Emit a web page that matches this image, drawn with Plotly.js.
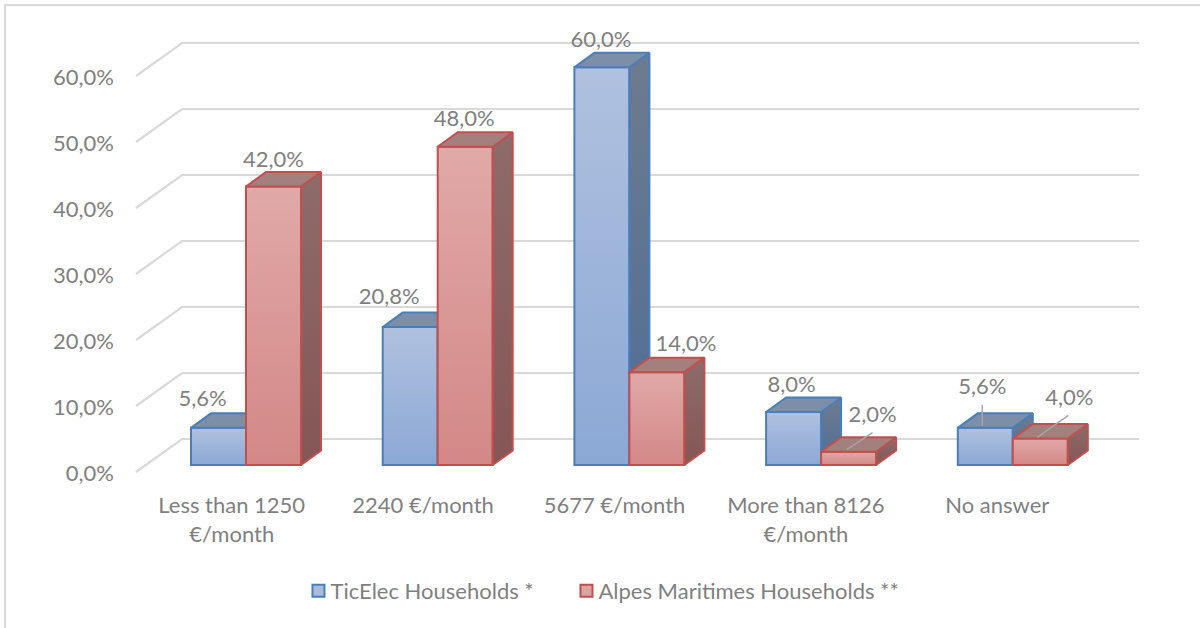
<!DOCTYPE html>
<html><head><meta charset="utf-8">
<script src="https://cdn.plot.ly/plotly-3.0.1.min.js"></script>
<style>html,body{margin:0;padding:0;background:#fff;overflow:hidden}#frame{position:absolute;left:4px;top:4px;width:1300px;height:700px;border-left:2px solid #d9d9d9;border-top:2px solid #d9d9d9;box-sizing:border-box}#chart{position:absolute;left:0;top:0;width:1200px;height:628px}</style>
</head><body><div id="frame"></div><div id="chart"></div>
<script>
// ---------- data ----------
const categories = ['Less than 1250<br>€/month','2240 €/month','5677 €/month','More than 8126<br>€/month','No answer'];
const ticElec = [5.6,20.8,60,8,5.6];
const alpes = [42,48,14,2,4];
const yTicks = [0,10,20,30,40,50,60];
const seriesNames = ['TicElec Households *','Alpes Maritimes Households **'];

// ---------- layout metrics (pixels of the picture) ----------
const plot = {l:115,r:1160,t:20,b:490};
const wall = {x0:136,y0:472,catW:191.4,unit:6.6,depthX:46,depthY:33};
const bars = {x0:246,y0:465,catW:191.7,unit:6.63,w:55,depthX:20,depthY:14.5};
const textGrey = '#7f7f7f', grid = '#d9d9d9', leader='#a6a6a6', font='Lato, Carlito, sans-serif';
const blue = {line:'#4a7ebb',front:['#b0c1df','#8ba8d5'],side:['#6e7b8f','#4f6d96'],top:'#7d8fa8',swatch:'#a9bcdc'};
const red  = {line:'#c0504d',front:['#e0a9a8','#d38886'],side:['#8d6c6b','#855655'],top:'#a37f7e',swatch:'#dba3a2'};
// label placement relative to the bar's front-top centre: [right, up] in px
const blueLabelShift = [[-16,27],[-21,29],[-1,26],[-2,25],[-3,39]];
const redLabelShift  = [[0,25],[-1,26],[29,27],[24,35],[29,39]];
// leader lines, from bar-top offset to label offset
const blueLeaders = [{i:4,from:[-3,2],to:[-3,23]}];
const redLeaders  = [{i:3,from:[-2,2],to:[24,19]},{i:4,from:[-3,1],to:[28,23]}];

const idx = categories.map((_,i)=>i);
const wBar = bars.w/bars.catW, dX = bars.depthX/bars.catW, dY = bars.depthY/bars.unit;
const fmt = v => v.toFixed(1).replace('.',',')+'%';

const traces = [];
// back-wall grid: front-left stub, then back line
yTicks.forEach(v=>{
  const dx = wall.depthX/wall.catW, dy = wall.depthY/wall.unit;
  traces.push({type:'scatter',mode:'lines',xaxis:'x',yaxis:'y',showlegend:false,hoverinfo:'skip',
    x:[-0.5,-0.5+dx,categories.length-0.5+dx],y:[v,v+dy,v+dy],line:{color:grid,width:2.2},cliponaxis:false});
});

function addSeries(vals,c,name,side,xa,ya,legendwidth){
  const left = i => side<0 ? i-wBar : i, right = i => side<0 ? i : i+wBar;
  const bar = {type:'bar',name,x:idx,y:vals,width:wBar,offset:side<0?-wBar:0,xaxis:xa,yaxis:ya,
    marker:{color:c.swatch,line:{color:c.line,width:2}},hoverinfo:'y'};
  if(legendwidth) bar.legendwidth = legendwidth;
  traces.push(bar);
  vals.forEach((v,i)=>{
    const r=right(i), l=left(i);
    traces.push({type:'scatter',mode:'lines',xaxis:xa,yaxis:ya,showlegend:false,hoverinfo:'skip',cliponaxis:false,
      x:[r,r+dX,r+dX,r,r],y:[v,v+dY,dY,0,v],fill:'toself',line:{color:c.line,width:2},
      fillgradient:{type:'vertical',colorscale:[[0,c.side[1]],[1,c.side[0]]]}});
    traces.push({type:'scatter',mode:'lines',xaxis:xa,yaxis:ya,showlegend:false,hoverinfo:'skip',cliponaxis:false,
      x:[l,l+dX,r+dX,r,l],y:[v,v+dY,v+dY,v,v],fill:'toself',fillcolor:c.top,line:{color:c.line,width:2}});
  });
}
addSeries(ticElec,blue,seriesNames[0],-1,'x2','y2',223);
addSeries(alpes,red,seriesNames[1],1,'x3','y3');

function addLabels(vals,shift,leaders,side){
  const cx = i => i+side*wBar/2;
  leaders.forEach(L=>{
    traces.push({type:'scatter',mode:'lines',xaxis:'x3',yaxis:'y3',showlegend:false,hoverinfo:'skip',cliponaxis:false,
      x:[cx(L.i)+L.from[0]/bars.catW,cx(L.i)+L.to[0]/bars.catW],
      y:[vals[L.i]+L.from[1]/bars.unit,vals[L.i]+L.to[1]/bars.unit],line:{color:leader,width:1.5}});
  });
  traces.push({type:'scatter',mode:'text',xaxis:'x3',yaxis:'y3',showlegend:false,hoverinfo:'skip',cliponaxis:false,
    x:vals.map((v,i)=>cx(i)+shift[i][0]/bars.catW),y:vals.map((v,i)=>v+shift[i][1]/bars.unit),
    text:vals.map(fmt),textposition:'middle center',textfont:{family:font,size:22,color:textGrey}});
}
addLabels(ticElec,blueLabelShift,blueLeaders,-1);
addLabels(alpes,redLabelShift,redLeaders,1);

const xr = (o,w)=>[(plot.l-o)/w,(plot.r-o)/w];
const yr = (o,u)=>[(o-plot.b)/u,(o-plot.t)/u];
const hidden = {visible:false,fixedrange:true,showgrid:false,zeroline:false};
const barsX = xr(bars.x0,bars.catW), barsY = yr(bars.y0,bars.unit);
const layout = {
  width:1200,height:628,paper_bgcolor:'rgba(0,0,0,0)',plot_bgcolor:'rgba(0,0,0,0)',
  margin:{l:plot.l,r:1200-plot.r,t:plot.t,b:628-plot.b,pad:0},
  font:{family:font,size:22,color:textGrey},
  barmode:'overlay',showlegend:true,hovermode:false,
  xaxis:{range:xr(wall.x0+wall.catW/2,wall.catW),tickmode:'array',tickvals:idx,ticktext:categories,
    showgrid:false,zeroline:false,showline:false,ticks:'',fixedrange:true,tickangle:0,
    tickfont:{family:font,size:22,color:textGrey}},
  yaxis:{range:yr(wall.y0,wall.unit),tickmode:'array',tickvals:yTicks,ticktext:yTicks.map(fmt),
    showgrid:false,zeroline:false,showline:false,ticks:'',fixedrange:true,ticklabelshift:1,
    tickfont:{family:font,size:22,color:textGrey}},
  xaxis2:Object.assign({overlaying:'x',anchor:'y2',range:barsX},hidden),
  yaxis2:Object.assign({overlaying:'y',anchor:'x2',range:barsY},hidden),
  xaxis3:Object.assign({overlaying:'x',anchor:'y3',range:barsX},hidden),
  yaxis3:Object.assign({overlaying:'y',anchor:'x3',range:barsY},hidden),
  legend:{orientation:'h',x:0.4617,xanchor:'center',y:-0.215,yanchor:'middle',
    font:{family:font,size:22,color:textGrey},bgcolor:'rgba(0,0,0,0)'}
};
Plotly.newPlot('chart',traces,layout,{displayModeBar:false,staticPlot:true}).then(gd=>{
  const svg = gd.querySelector('svg.main-svg');
  const ns = 'http://www.w3.org/2000/svg';
  const defs = svg.querySelector('defs');
  [['gBlue',blue],['gRed',red]].forEach(([id,c])=>{
    const g = document.createElementNS(ns,'linearGradient');
    g.setAttribute('id',id);g.setAttribute('x1','0');g.setAttribute('y1','0');g.setAttribute('x2','0');g.setAttribute('y2','1');
    c.front.forEach((col,k)=>{const s=document.createElementNS(ns,'stop');s.setAttribute('offset',k);s.setAttribute('stop-color',col);g.appendChild(s);});
    defs.appendChild(g);
  });
  gd.querySelectorAll('.barlayer .trace').forEach((t,k)=>{
    t.querySelectorAll('path').forEach(p=>{p.style.fill='url(#'+(k===0?'gBlue':'gRed')+')';});
  });
  // tuck each legend swatch close to its text and size it like the reference
  gd.querySelectorAll('.legend .legendsymbols').forEach(s=>{s.setAttribute('transform','translate(8,0)');});
  gd.querySelectorAll('.legend .legendbar').forEach(p=>{p.setAttribute('transform',(p.getAttribute('transform')||'')+' scale(1.15)');});
});
</script></body></html>
